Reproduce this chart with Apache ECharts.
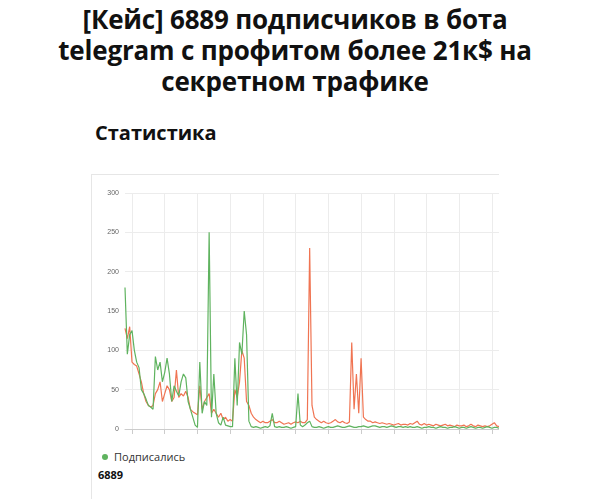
<!DOCTYPE html>
<html>
<head>
<meta charset="utf-8">
<script src="https://cdn.jsdelivr.net/npm/echarts@6/dist/echarts.min.js"></script>
<style>
body{margin:0;background:#fff;font-family:"Open Sans","Noto Sans",sans-serif;}
#title{position:absolute;left:0;top:4px;width:590px;text-align:center;font-size:26px;font-weight:bold;line-height:31px;color:#111;letter-spacing:-0.2px;}
#sub{position:absolute;left:95px;top:119px;font-size:20px;font-weight:bold;color:#111;}
#card{position:absolute;left:91px;top:174px;width:407px;height:330px;border-top:1px solid #e6e6e6;border-left:1px solid #e6e6e6;overflow:hidden;}
#chart{position:absolute;left:0;top:0;width:420px;height:270px;}
#leg{position:absolute;left:10px;top:274px;font-size:11px;color:#333;}
#leg i{display:inline-block;width:6px;height:6px;border-radius:3px;background:#5fb35f;margin-right:6px;vertical-align:1px;}
#tot{position:absolute;left:6px;top:292px;font-size:11px;font-weight:bold;color:#111;}
</style>
</head>
<body>
<div id="title">[Кейс] 6889 подписчиков в бота<br>telegram с профитом более 21к$ на<br>секретном трафике</div>
<div id="sub">Статистика</div>
<div id="card"><div id="chart"></div><div id="leg"><i></i>Подписались</div><div id="tot">6889</div></div>
<script>
// подписались
var subscribed = [180,95,120,125,100,85,78,50,45,38,30,28,25,92,75,85,60,72,90,70,
35,55,48,42,60,70,65,35,25,15,5,2,85,20,35,30,250,15,70,20,
8,5,15,5,4,3,3,90,30,110,95,150,120,10,3,2,3,2,1,2,
3,2,4,20,3,2,3,2,2,3,2,1,2,3,45,5,3,5,8,10,
3,2,2,3,2,1,2,3,2,2,3,4,3,2,2,3,4,3,2,2,
3,3,4,3,2,3,4,4,3,2,3,3,2,3,4,3,2,3,3,2,
3,2,3,2,2,3,2,1,2,2,3,2,2,1,2,3,2,2,1,2,
2,3,2,1,2,2,1,2,3,2,1,2,2,1,2,3,2,1,2,2,1];
// второй ряд
var other = [128,115,130,85,82,80,70,60,45,35,30,28,30,45,50,60,35,45,55,50,
35,40,75,40,45,42,48,40,25,22,20,18,55,25,35,40,45,20,25,20,
15,20,12,15,10,12,10,50,40,60,100,90,35,30,20,15,12,10,8,10,
8,8,10,12,8,8,10,8,6,7,8,6,8,9,8,10,8,8,12,230,
30,15,12,10,8,10,8,7,8,10,12,9,8,10,8,7,9,110,25,70,
20,90,15,12,10,10,8,9,8,7,8,7,6,7,6,5,6,7,5,6,
6,5,7,6,8,10,6,5,7,5,6,5,4,6,5,4,5,6,4,5,
4,3,5,4,4,5,3,4,6,4,3,5,4,3,4,3,4,6,8,4,3];
var days = other.map(function(v,i){return String(i+1);});
var yTicks = [0,300,50];

var chart = echarts.init(document.getElementById('chart'));
chart.setOption({
    animation:false,
    grid:{left:33,top:18,width:374,height:236},
    xAxis:{type:'category',data:days,boundaryGap:false,
        axisLine:{lineStyle:{color:'#ccc'}},axisLabel:{show:false},
        axisTick:{interval:function(i){return (i-3)%14===0;},lineStyle:{color:'#ccc'}},
        splitLine:{show:true,interval:function(i){return (i-3)%14===0;},lineStyle:{color:'#ececec'}}},
    yAxis:{type:'value',min:yTicks[0],max:yTicks[1],interval:yTicks[2],
        axisLabel:{fontSize:7,color:'#666',margin:6},
        splitLine:{lineStyle:{color:'#ececec'}}},
    series:[
        {type:'line',data:other,symbol:'none',lineStyle:{color:'#f07452',width:1.2}},
        {type:'line',data:subscribed,symbol:'none',lineStyle:{color:'#5fb35f',width:1.2}}
    ]
});
</script>
</body>
</html>
